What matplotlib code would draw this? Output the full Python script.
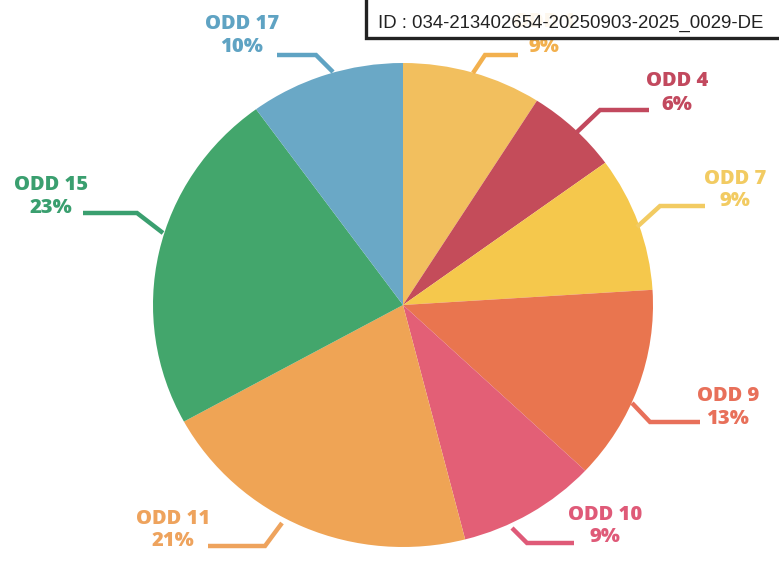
import matplotlib
matplotlib.use("Agg")
import matplotlib.pyplot as plt
from matplotlib.patches import Rectangle

# ---- data ----
labels = ["ODD 1", "ODD 4", "ODD 7", "ODD 9", "ODD 10", "ODD 11", "ODD 15", "ODD 17"]
values = [9, 6, 9, 13, 9, 21, 23, 10]
slice_colors = ["#F2BF5E", "#C44C5A", "#F5C84C", "#E9754F", "#E35F76", "#EFA455", "#43A66C", "#6AA8C6"]
text_colors = ["#F2B04E", "#C2495E", "#F2CB62", "#E8705A", "#DF5A78", "#EEA35D", "#3A9F6F", "#5FA3C3"]
id_text = "ID : 034-213402654-20250903-2025_0029-DE"

# ---- layout (pixel positions) ----
W, H = 779, 562
CX, CY = 403, 305
RX, RY = 250, 242

# label centers (x, y of first line, y of second line)
label_pos = [(544, 22, 47), (677, 81, 105), (735, 179, 201), (728, 396, 419),
             (605, 515, 537), (173, 519, 541), (51, 185, 208), (242, 24, 47)]
# leader line vertices
leaders = [
    [(473, 73), (485, 55), (518, 55)],
    [(577, 132), (600, 110), (649, 110)],
    [(637, 227), (660, 206), (705, 206)],
    [(632, 403), (650, 422), (700, 422)],
    [(512, 528), (527, 543), (574, 543)],
    [(282, 523), (265, 546), (208, 546)],
    [(163, 233), (137, 213), (83, 213)],
    [(333, 72), (316, 55), (277, 55)],
]


def P(px, py):
    return (px - CX) / RX, (CY - py) / RY


fig = plt.figure(figsize=(W / 100, H / 100), dpi=100)
ax = fig.add_axes([0, 0, 1, 1])

ax.pie(values, colors=slice_colors, startangle=90, counterclock=False,
       radius=1, center=(0, 0), frame=True,
       wedgeprops=dict(linewidth=0))
ax.set_aspect("auto")
ax.set_xlim(P(0, 0)[0], P(W, 0)[0])
ax.set_ylim(P(0, H)[1], P(0, 0)[1])
ax.axis("off")

font = dict(family=["Open Sans", "DejaVu Sans"], fontweight=800, fontsize=14.5)
for lab, val, col, (lx, ly1, ly2), pts in zip(labels, values, text_colors, label_pos, leaders):
    xs, ys = zip(*[P(*p) for p in pts])
    ax.plot(xs, ys, color=col, lw=3.2, solid_capstyle="butt", solid_joinstyle="miter", zorder=3)
    ax.text(*P(lx, ly1), lab, color=col, ha="center", va="center", zorder=4, **font)
    ax.text(*P(lx, ly2), f"{val}%", color=col, ha="center", va="center", zorder=4, **font)

# ID box overlaying the top
x0, y0 = P(366, 38)
x1, y1 = P(800, -10)
ax.add_patch(Rectangle((x0, y0), x1 - x0, y1 - y0, facecolor=(1, 1, 1, 0.9),
                       edgecolor="#222222", linewidth=2.4, zorder=10, clip_on=False))
ax.text(*P(378, 23), id_text, color="#222222", ha="left", va="center",
        family=["Liberation Sans", "DejaVu Sans"], fontsize=13.4, zorder=11)

fig.savefig("out.png", dpi=100)
